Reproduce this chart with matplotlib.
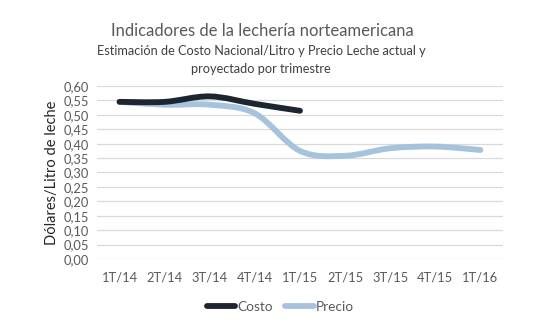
import matplotlib.pyplot as plt
from matplotlib.path import Path
from matplotlib.patches import PathPatch
from matplotlib.lines import Line2D

trimestres = ['1T/14', '2T/14', '3T/14', '4T/14', '1T/15', '2T/15', '3T/15', '4T/15', '1T/16']
costo = [0.545, 0.545, 0.564, 0.538, 0.514]
precio = [0.545, 0.535, 0.535, 0.505, 0.375, 0.358, 0.384, 0.39, 0.378]

gris = '#595959'
color_costo = '#1c2530'
color_precio = '#a7c2dc'

plt.rcParams['font.family'] = ['Lato', 'DejaVu Sans']


def curva_suave(ax, ys, color):
    # suavizado tipo Excel (Bezier cardinal)
    xs = list(range(len(ys)))
    pts = list(zip(xs, ys))
    verts = [pts[0]]
    codes = [Path.MOVETO]
    t = 1 / 6
    for i in range(len(pts) - 1):
        p0 = pts[i - 1] if i > 0 else pts[i]
        p1 = pts[i]
        p2 = pts[i + 1]
        p3 = pts[i + 2] if i + 2 < len(pts) else pts[i + 1]
        c1 = (p1[0] + (p2[0] - p0[0]) * t, p1[1] + (p2[1] - p0[1]) * t)
        c2 = (p2[0] - (p3[0] - p1[0]) * t, p2[1] - (p3[1] - p1[1]) * t)
        verts += [c1, c2, p2]
        codes += [Path.CURVE4] * 3
    patch = PathPatch(Path(verts, codes), facecolor='none', edgecolor=color,
                      lw=4.2, capstyle='round', joinstyle='round', zorder=3)
    ax.add_patch(patch)


fig = plt.figure(figsize=(5.52, 3.3), dpi=100)
ax = fig.add_axes([0.1757, 0.2152, 0.7355, 0.5242])

curva_suave(ax, precio, color_precio)
curva_suave(ax, costo, color_costo)

ax.set_xlim(-0.5, len(trimestres) - 0.5)
ax.set_ylim(0, 0.6)
ax.set_xticks(range(len(trimestres)))
ax.set_xticklabels(trimestres)
yt = [i * 0.05 for i in range(13)]
ax.set_yticks(yt)
ax.set_yticklabels([f'{v:.2f}'.replace('.', ',') for v in yt])
ax.tick_params(length=0, labelsize=9.3, colors=gris, pad=6)
ax.tick_params(axis='x', pad=9)
ax.grid(axis='y', color='#d9d9d9', lw=0.9)
ax.set_axisbelow(True)
for s in ax.spines.values():
    s.set_visible(False)

ax.set_ylabel('Dólares/Litro de leche', fontsize=10.5, color='#262626', labelpad=3)

fig.text(0.475, 0.905, 'Indicadores de la lechería norteamericana', ha='center', va='center',
         fontsize=12, color=gris)
fig.text(0.473, 0.817, 'Estimación de Costo Nacional/Litro y Precio Leche actual y\nproyectado por trimestre',
         ha='center', va='center', fontsize=9.2, color='#404040', linespacing=1.6)

handles = [Line2D([], [], color=color_costo, lw=4.2, solid_capstyle='round'),
           Line2D([], [], color=color_precio, lw=4.2, solid_capstyle='round')]
fig.legend(handles, ['Costo', 'Precio'], loc='center', bbox_to_anchor=(0.508, 0.07), ncol=2,
           frameon=False, fontsize=9.8, labelcolor=gris, handlelength=2.1,
           handletextpad=0.15, columnspacing=0.9)

fig.savefig('out.png', dpi=100)
